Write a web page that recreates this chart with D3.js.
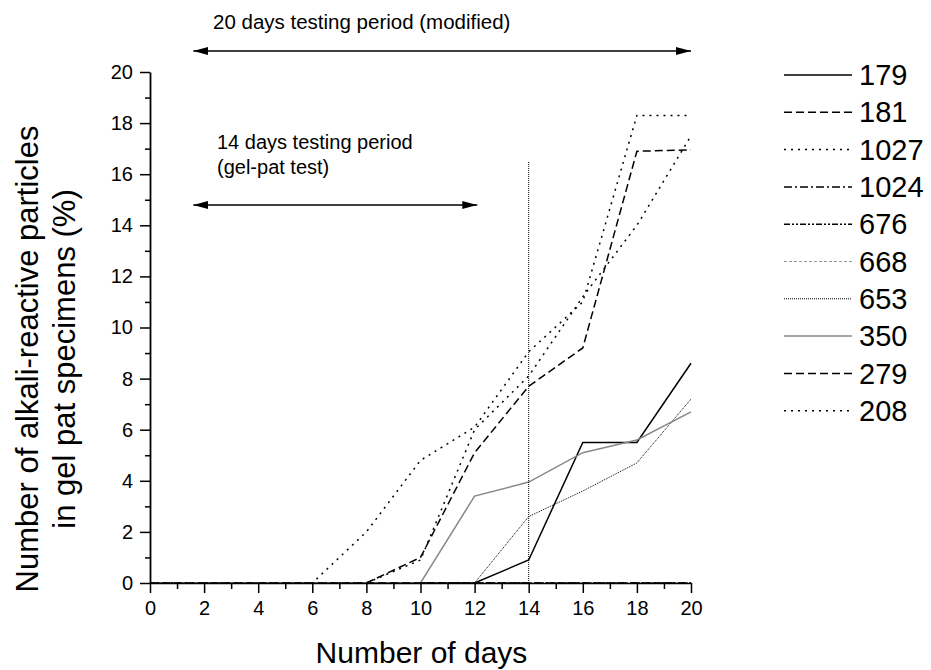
<!DOCTYPE html>
<html>
<head>
<meta charset="utf-8">
<script src="https://cdn.jsdelivr.net/npm/d3@7"></script>
<style>
  body { margin: 0; background: #fff; }
  text { font-family: "Liberation Sans", Arial, sans-serif; }
</style>
</head>
<body>
<svg id="chart"></svg>
<script>
// Chart size and margins
const width = 931;
const height = 670;
const marginTop = 72;
const marginRight = 241;
const marginBottom = 87;
const marginLeft = 150;

// DATA
const days = [0, 2, 4, 6, 8, 10, 12, 14, 16, 18, 20];
const seriesNames = ["179", "181", "1027", "1024", "676", "668", "653", "350", "279", "208"];
const s179  = [0, 0, 0, 0, 0, 0, 0, 0.9, 5.5, 5.5, 8.6];
const s181  = [0, 0, 0, 0, 0, 1.0, 5.1, 7.7, 9.2, 16.9, 16.95];
const s1027 = [0, 0, 0, 0, 2.0, 4.8, 6.1, 9.05, 11.0, 18.3, 18.3];
const s1024 = [0, 0, 0, 0, 0, 0, 0, 0, 0, 0, 0];
const s676  = [0, 0, 0, 0, 0, 0, 0, 0, 0, 0, 0];
const s668  = [0, 0, 0, 0, 0, 0, 0, 0, 0, 0, 0];
const s653  = [0, 0, 0, 0, 0, 0, 0, 2.6, 3.6, 4.7, 7.2];
const s350  = [0, 0, 0, 0, 0, 0, 3.4, 3.95, 5.1, 5.6, 6.7];
const s279  = [0, 0, 0, 0, 0, 0, 0, 0, 0, 0, 0];
const s208  = [0, 0, 0, 0, 0, 0.9, 6.0, 8.1, 11.2, 14.0, 17.5];
const xTicks = [0, 2, 4, 6, 8, 10, 12, 14, 16, 18, 20];
const yTicks = [0, 2, 4, 6, 8, 10, 12, 14, 16, 18, 20];

const seriesValues = [s179, s181, s1027, s1024, s676, s668, s653, s350, s279, s208];

// line styles per series
const styles = {
  "179":  { stroke: "#000", dash: null, w: 1.5 },
  "181":  { stroke: "#000", dash: "8,4", w: 1.5 },
  "1027": { stroke: "#000", dash: "2,5", w: 1.5 },
  "1024": { stroke: "#000", dash: "8,3,2,3", w: 1.5 },
  "676":  { stroke: "#000", dash: "6,2,2,2,2,2", w: 1.5 },
  "668":  { stroke: "#999", dash: "3,2", w: 1 },
  "653":  { stroke: "#000", dash: "1,1", w: 1 },
  "350":  { stroke: "#888", dash: null, w: 1.5 },
  "279":  { stroke: "#000", dash: "8,4", w: 1.5 },
  "208":  { stroke: "#000", dash: "2,5", w: 1.5 }
};

const series = seriesNames.map((name, i) => ({
  name,
  values: days.map((d, j) => ({ day: d, value: seriesValues[i][j] }))
}));

// Scales
const x = d3.scaleLinear()
    .domain([0, 20])
    .range([marginLeft, width - marginRight + 1]);

const y = d3.scaleLinear()
    .domain([0, 20])
    .range([height - marginBottom, marginTop]);

const svg = d3.select("#chart")
    .attr("width", width)
    .attr("height", height)
    .attr("viewBox", [0, 0, width, height]);

// arrow marker
const defs = svg.append("defs");
defs.append("marker")
    .attr("id", "arrow")
    .attr("viewBox", "0 0 15 8")
    .attr("refX", 15)
    .attr("refY", 4)
    .attr("markerWidth", 15)
    .attr("markerHeight", 8)
    .attr("markerUnits", "userSpaceOnUse")
    .attr("orient", "auto-start-reverse")
    .append("path")
    .attr("d", "M0,0L15,4L0,8Z")
    .attr("fill", "#000");

// Data lines (drawn first so the axes sit on top)
const line = d3.line()
    .x(d => x(d.day))
    .y(d => y(d.value));

svg.append("g")
    .attr("fill", "none")
    .selectAll("path")
    .data(series)
    .join("path")
    .attr("stroke", d => styles[d.name].stroke)
    .attr("stroke-width", d => styles[d.name].w)
    .attr("stroke-dasharray", d => styles[d.name].dash)
    .attr("d", d => line(d.values));

// X axis (major + minor ticks)
svg.append("g")
    .attr("transform", `translate(0,${height - marginBottom})`)
    .call(d3.axisBottom(x).tickValues(d3.range(1, 20, 2)).tickSize(6).tickFormat(""))
    .call(g => g.select(".domain").remove())
    .call(g => g.selectAll("line").attr("stroke-width", 1.5));

svg.append("g")
    .attr("transform", `translate(0,${height - marginBottom})`)
    .call(d3.axisBottom(x).tickValues(xTicks).tickSize(10).tickSizeOuter(0).tickPadding(8))
    .call(g => g.select(".domain").attr("stroke-width", 1.6))
    .call(g => g.selectAll("line").attr("stroke-width", 1.5))
    .call(g => g.selectAll("text").attr("font-size", 20).attr("font-family", "Liberation Sans, Arial, sans-serif").attr("fill", "#000"));

// Y axis
svg.append("g")
    .attr("transform", `translate(${marginLeft},0)`)
    .call(d3.axisLeft(y).tickValues(d3.range(1, 20, 2)).tickSize(5).tickFormat(""))
    .call(g => g.select(".domain").remove())
    .call(g => g.selectAll("line").attr("stroke-width", 1.5));

svg.append("g")
    .attr("transform", `translate(${marginLeft},0)`)
    .call(d3.axisLeft(y).tickValues(yTicks).tickSize(10).tickSizeOuter(0).tickPadding(7))
    .call(g => g.select(".domain").attr("stroke-width", 1.8))
    .call(g => g.selectAll("line").attr("stroke-width", 1.5))
    .call(g => g.selectAll("text").attr("font-size", 20).attr("font-family", "Liberation Sans, Arial, sans-serif").attr("fill", "#000"));

// Axis titles
svg.append("text")
    .attr("x", (x(0) + x(20)) / 2 + 1)
    .attr("y", 663)
    .attr("text-anchor", "middle")
    .attr("font-size", 30)
    .text("Number of days");

const yTitle = svg.append("text")
    .attr("transform", "translate(0,359) rotate(-90)")
    .attr("text-anchor", "middle")
    .attr("font-size", 31);
yTitle.append("tspan").attr("x", 0).attr("y", 38).text("Number of alkali-reactive particles");
yTitle.append("tspan").attr("x", 0).attr("y", 75).text("in gel pat specimens (%)");

// Vertical marker at day 14
svg.append("line")
    .attr("x1", x(14)).attr("x2", x(14))
    .attr("y1", y(0)).attr("y2", y(16.5))
    .attr("stroke", "#000")
    .attr("stroke-width", 1)
    .attr("stroke-dasharray", "1,1");

// Testing period annotations
svg.append("line")
    .attr("x1", x(20)).attr("x2", x(1.6))
    .attr("y1", 51).attr("y2", 51)
    .attr("stroke", "#000").attr("stroke-width", 1.5)
    .attr("marker-start", "url(#arrow)")
    .attr("marker-end", "url(#arrow)");

svg.append("text")
    .attr("x", 213).attr("y", 29)
    .attr("font-size", 20.5)
    .text("20 days testing period (modified)");

svg.append("line")
    .attr("x1", x(12.1)).attr("x2", x(1.6))
    .attr("y1", 205).attr("y2", 205)
    .attr("stroke", "#000").attr("stroke-width", 1.5)
    .attr("marker-start", "url(#arrow)")
    .attr("marker-end", "url(#arrow)");

svg.append("text")
    .attr("x", 217).attr("y", 149)
    .attr("font-size", 20)
    .text("14 days testing period");

svg.append("text")
    .attr("x", 217).attr("y", 174)
    .attr("font-size", 20)
    .text("(gel-pat test)");

// Legend
const legend = svg.append("g")
    .selectAll("g")
    .data(series)
    .join("g")
    .attr("transform", (d, i) => `translate(784,${75 + i * 37.3})`);

legend.append("line")
    .attr("x1", 0).attr("x2", 68)
    .attr("stroke", d => styles[d.name].stroke)
    .attr("stroke-width", d => styles[d.name].w)
    .attr("stroke-dasharray", d => styles[d.name].dash);

legend.append("text")
    .attr("x", 75)
    .attr("dy", "0.35em")
    .attr("font-size", 29)
    .text(d => d.name);
</script>
</body>
</html>
